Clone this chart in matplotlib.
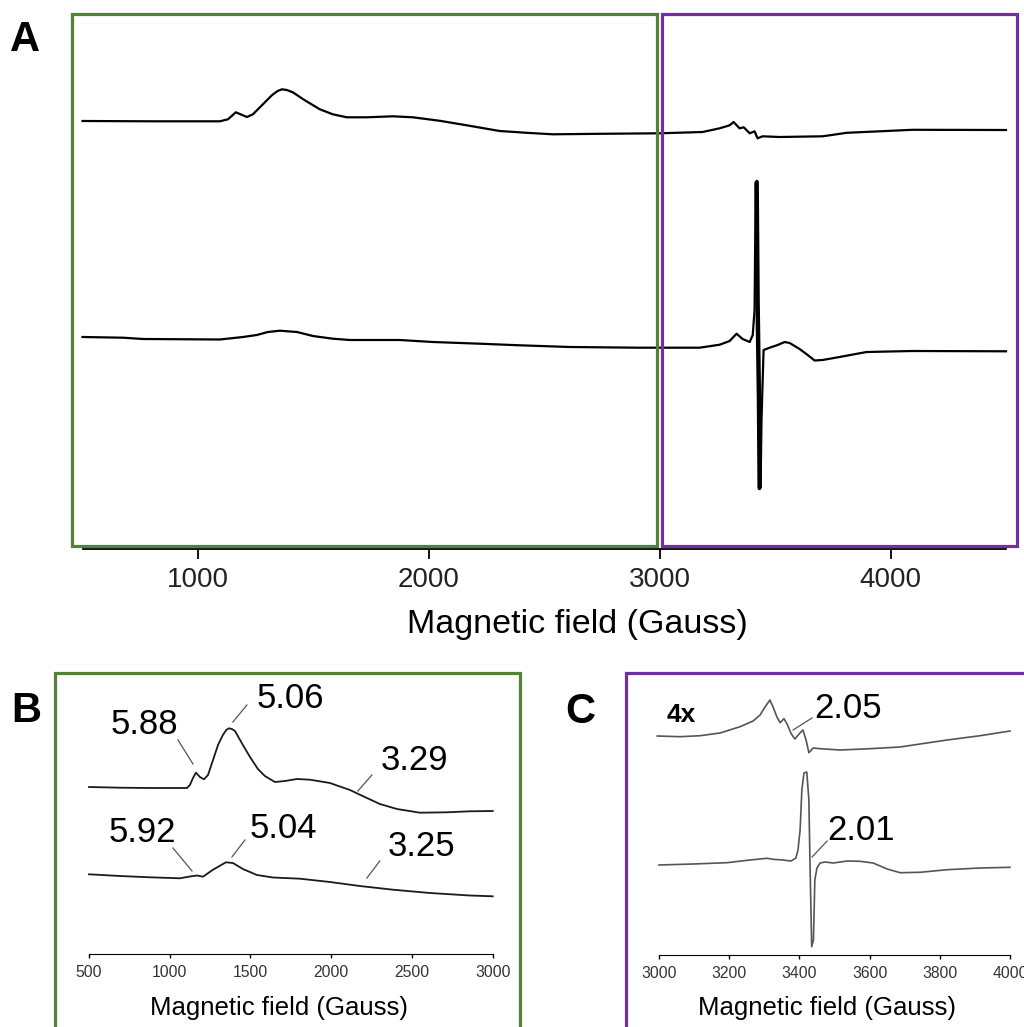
#!/usr/bin/env python3
"""
EPR spectra figure: full sweep (A), low-field zoom (B), g~2 region zoom (C)
"""

import matplotlib
matplotlib.use('Agg')
import matplotlib.pyplot as plt
from matplotlib.patches import Rectangle

plt.rcParams['font.family'] = ['Liberation Sans', 'DejaVu Sans']

# ---- data (field in Gauss, intensity in arbitrary units relative to baseline) ----
# panel A, upper spectrum
a_top_field = [500, 792, 1095, 1130, 1164, 1212, 1238, 1277, 1320, 1345, 1364, 1385, 1411, 1463,
               1528, 1584, 1645, 1731, 1844, 1931, 2048, 2164, 2307, 2424, 2537, 2740,
               3000, 3186, 3260, 3303, 3320, 3346, 3364, 3390, 3411, 3424, 3446, 3519,
               3706, 3810, 3953, 4095, 4500]
a_top_int = [0, -0.3, -0.3, 1.7, 8.7, 4, 6.7, 15.7, 25.7, 30, 31.7, 31, 28.7, 20.7,
             11.7, 6.7, 3.7, 3.7, 4.7, 3.7, 0.2, -4.3, -10, -11.8, -13.3, -12.8,
             -12.3, -11, -7.3, -4.3, -1, -7.3, -6.3, -12.3, -10.3, -17.3, -15.3, -16,
             -15.3, -11.8, -10.3, -8.8, -9]

# panel A, lower spectrum
a_bot_field = [500, 675, 762, 965, 1095, 1195, 1255, 1303, 1355, 1429, 1498, 1584,
               1658, 1874, 2017, 2221, 2394, 2610, 2913, 3173, 3260, 3303, 3333, 3359,
               3390, 3403, 3411, 3416, 3420, 3424, 3430, 3433, 3437, 3441, 3450, 3476,
               3511, 3541, 3563, 3606, 3641, 3671, 3706, 3779, 3896, 4095, 4500]
a_bot_int = [0, -0.7, -2, -2.3, -2.5, 0, 2, 5, 6.3, 5, 1, -1.7,
             -3, -3, -5, -6.7, -8.3, -10, -10.7, -10.7, -7.7, -4, 3.3, -2,
             -5, 2, 27, 155, 155, 37, -63, -151, -151, -83, -13, -10.7,
             -8, -5, -6, -12, -18, -23.5, -23, -20, -15, -14, -14.3]

# panel B, upper spectrum
b_top_field = [500, 692, 878, 1107, 1125, 1144, 1162, 1187, 1212, 1237, 1268, 1299,
               1329, 1350, 1367, 1385, 1404, 1453, 1497, 1546, 1589, 1651, 1713, 1788, 1868, 1992,
               2116, 2208, 2301, 2407, 2549, 2716, 2858, 3000]
b_top_int = [0.5, -0.2, -0.5, -0.5, 2.5, 9.5, 14.8, 10.5, 8.2, 12.5, 27.5, 42.5,
             52.5, 57.5, 59.2, 58.5, 56.5, 42.5, 30.5, 18.5, 11.5, 5.5, 6.5, 8.5, 7.8, 4.5,
             -2.5, -9.5, -16.5, -21.5, -25.2, -24.8, -23.8, -23.5]

# panel B, lower spectrum
b_bot_field = [500, 692, 878, 1063, 1125, 1169, 1206, 1268, 1348, 1391, 1453, 1540,
               1639, 1806, 1992, 2177, 2382, 2611, 2858, 3000]
b_bot_int = [0.7, -1, -2.3, -3.3, -1.5, -0.5, -1.7, 5.3, 12.7, 12, 6, 0,
             -2.5, -3.7, -7, -11, -14.7, -18, -20.5, -21.3]

# panel C, upper spectrum (4x)
c_top_field = [2995, 3060, 3117, 3174, 3231, 3268, 3288, 3302, 3316, 3325, 3336, 3345,
               3356, 3365, 3376, 3387, 3399, 3410, 3419, 3427, 3439, 3459, 3516, 3601,
               3687, 3744, 3821, 3915, 4000]
c_top_int = [0, -0.7, 0.3, 3, 9.3, 15, 21, 29, 36, 29, 19, 13.3,
             17.3, 12, 2.7, -3, 2, 6, -4, -16.7, -12, -12.7, -14, -12.7,
             -11, -8, -4, 0.3, 5]

# panel C, lower spectrum
c_bot_field = [3000, 3097, 3194, 3259, 3308, 3325, 3353, 3376, 3390, 3396, 3402, 3407,
               3413, 3421, 3427, 3430, 3435, 3440, 3444, 3450, 3459, 3473, 3496, 3536,
               3573, 3610, 3650, 3687, 3744, 3821, 3915, 4000]
c_bot_int = [0, 1, 2.3, 5, 6.7, 5.7, 5, 4, 7, 15, 35, 75,
             92, 93, 65, 5, -81.7, -75, -15, -3, 2, 3, 2, 4,
             3.7, 2, -4, -7.7, -7.3, -4.7, -3, -2.3]

# g-value labels: (text, text pos, leader line start, leader line end)
b_labels = [
    ('5.88', (840, 229), (1051, 214), (1144, 190)),
    ('5.06', (1744, 256), (1391, 232), (1478, 249)),
    ('3.29', (2518, 194), (2165, 163), (2252, 179)),
    ('5.92', (831, 122), (1020, 106), (1138, 83)),
    ('5.04', (1701, 126), (1385, 97), (1466, 114)),
    ('3.25', (2561, 107), (2221, 76), (2301, 93)),
]
c_labels = [
    ('2.05', (3540, 247), (3382, 225), (3436, 237)),
    ('2.01', (3575, 125), (3436, 98), (3479, 114)),
]

W, H = 1024, 1027
GREEN = '#548235'
PURPLE = '#7030A0'


def px_axes(fig, left, top, right, bottom):
    """Add axes using pixel edges measured from the top-left corner"""
    ax = fig.add_axes([left / W, 1 - bottom / H, (right - left) / W, (bottom - top) / H])
    for side in ('top', 'left', 'right'):
        ax.spines[side].set_visible(False)
    ax.set_yticks([])
    ax.patch.set_alpha(0)
    return ax


def px_box(fig, left, top, right, bottom, color):
    fig.add_artist(Rectangle((left / W, 1 - bottom / H), (right - left) / W,
                             (bottom - top) / H, transform=fig.transFigure,
                             fill=False, ec=color, lw=2.3))


def offset(values, base):
    return [v + base for v in values]


def main():
    fig = plt.figure(figsize=(W / 100, H / 100), dpi=100)

    # Panel A
    axA = px_axes(fig, 82.5, 14, 1006, 549)
    axA.plot(a_top_field, offset(a_top_int, 428), color='black', lw=1.6, clip_on=False)
    axA.plot(a_bot_field, offset(a_bot_int, 212), color='black', lw=1.6, clip_on=False)
    # the dense sharp line at g~2 prints as a heavy stroke
    i0, i1 = a_bot_field.index(3416), a_bot_field.index(3437) + 1
    axA.plot(a_bot_field[i0:i1], offset(a_bot_int[i0:i1], 212), color='black', lw=3.2,
             solid_joinstyle='round', solid_capstyle='butt', clip_on=False)
    axA.set_xlim(500, 4500)
    axA.set_ylim(0, 535)
    axA.set_xticks([1000, 2000, 3000, 4000])
    axA.tick_params(axis='x', labelsize=20, length=7, width=1.3, pad=6, labelcolor='#222')
    axA.spines['bottom'].set_linewidth(1.3)
    fig.text(577 / W, 1 - 624 / H, 'Magnetic field (Gauss)', fontsize=24.5,
             ha='center', va='center')

    # Panel B
    axB = px_axes(fig, 89, 676, 492.7, 954)
    axB.plot(b_top_field, offset(b_top_int, 166.5), color='#1a1a1a', lw=1.3, clip_on=False)
    axB.plot(b_bot_field, offset(b_bot_int, 79), color='#1a1a1a', lw=1.3, clip_on=False)
    axB.set_xlim(500, 3000)
    axB.set_ylim(0, 278)
    axB.set_xticks([500, 1000, 1500, 2000, 2500, 3000])
    axB.tick_params(axis='x', labelsize=11.3, length=3, width=1, pad=5, labelcolor='#333')
    for text, tpos, l0, l1 in b_labels:
        axB.text(tpos[0], tpos[1], text, fontsize=25, ha='center', va='center')
        axB.plot([l0[0], l1[0]], [l0[1], l1[1]], color='#555', lw=0.9)
    fig.text(279 / W, 1 - 1008 / H, 'Magnetic field (Gauss)', fontsize=18.5,
             ha='center', va='center')

    # Panel C
    axC = px_axes(fig, 659, 676, 1010, 955)
    axC.plot(c_top_field, offset(c_top_int, 219), color='#555', lw=1.2, clip_on=False)
    axC.plot(c_bot_field, offset(c_bot_int, 90), color='#555', lw=1.2, clip_on=False)
    axC.set_xlim(3000, 4000)
    axC.set_ylim(0, 279)
    axC.set_xticks([3000, 3200, 3400, 3600, 3800, 4000])
    axC.tick_params(axis='x', labelsize=11.3, length=3, width=1, pad=5, labelcolor='#333')
    for text, tpos, l0, l1 in c_labels:
        axC.text(tpos[0], tpos[1], text, fontsize=25, ha='center', va='center')
        axC.plot([l0[0], l1[0]], [l0[1], l1[1]], color='#555', lw=0.9)
    axC.text(3063, 240, '4x', fontsize=19, fontweight='bold', ha='center', va='center')
    fig.text(827.5 / W, 1 - 1008 / H, 'Magnetic field (Gauss)', fontsize=18.5,
             ha='center', va='center')

    # Coloured frames and panel letters
    px_box(fig, 72, 14, 657, 546, GREEN)
    px_box(fig, 662, 14, 1017, 546, PURPLE)
    px_box(fig, 55, 673, 520, 1040, GREEN)
    px_box(fig, 626, 673, 1040, 1040, PURPLE)
    for letter, x, y in [('A', 25, 40), ('B', 26, 711), ('C', 580, 712)]:
        fig.text(x / W, 1 - y / H, letter, fontsize=30, fontweight='bold',
                 ha='center', va='center')

    fig.savefig('out.png', dpi=100)
    plt.close(fig)


if __name__ == '__main__':
    main()
